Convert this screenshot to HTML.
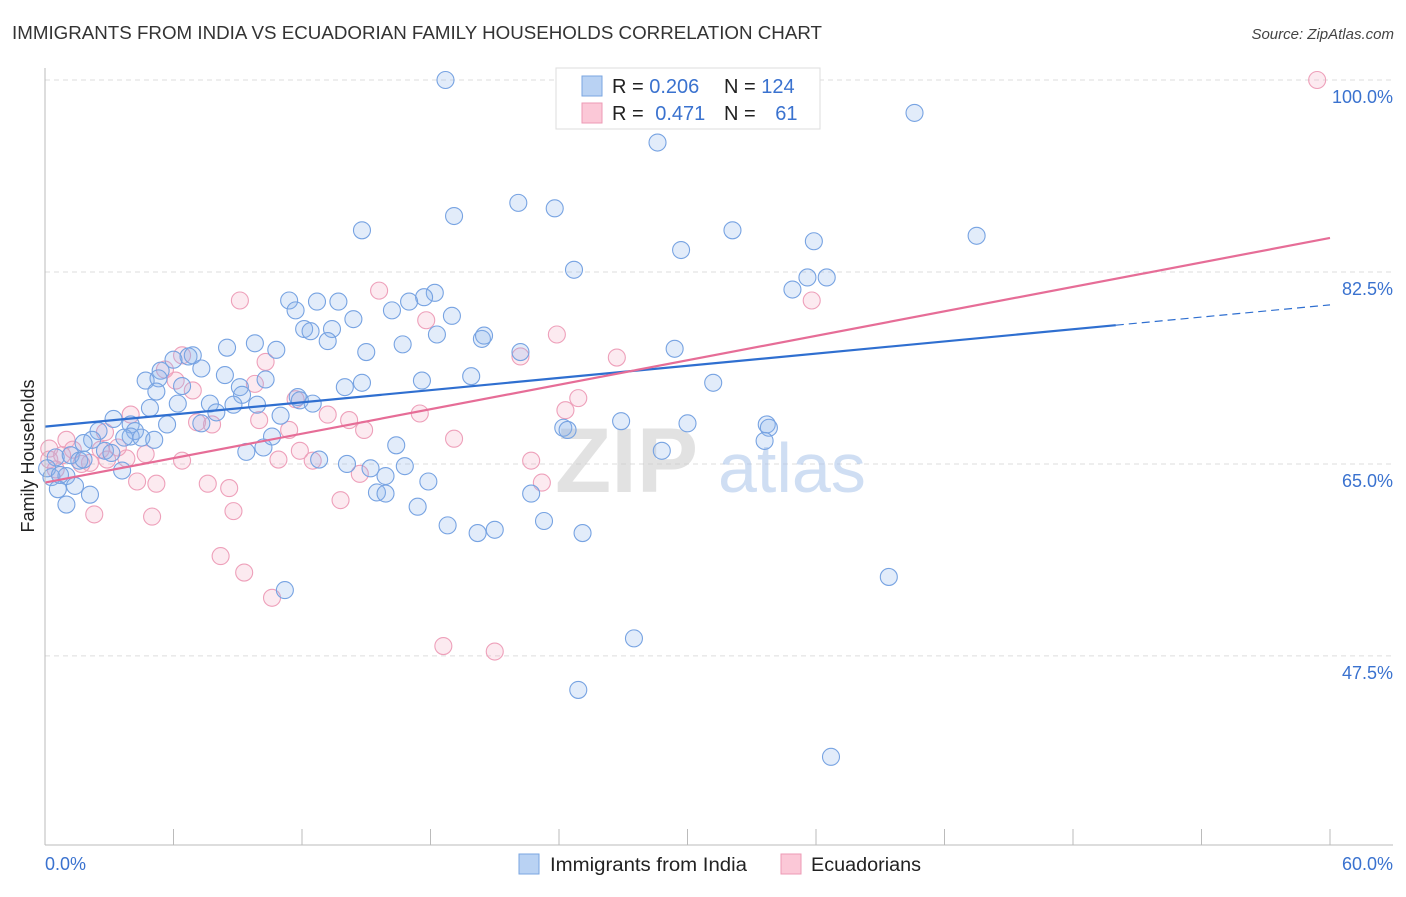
<!DOCTYPE html>
<html><head><meta charset="utf-8"><style>
body{margin:0;background:#fff;font-family:"Liberation Sans",sans-serif;}
svg text{font-family:"Liberation Sans",sans-serif;}
</style></head><body>
<svg id="chart" width="1406" height="892" xmlns="http://www.w3.org/2000/svg">
<text x="12" y="39" font-size="18" fill="#333" textLength="810" lengthAdjust="spacingAndGlyphs">IMMIGRANTS FROM INDIA VS ECUADORIAN FAMILY HOUSEHOLDS CORRELATION CHART</text>
<text x="1394" y="39" font-size="15" fill="#444" text-anchor="end" font-style="italic">Source: ZipAtlas.com</text>
<g id="grid"></g>
<g><text x="555" y="492" font-size="92" fill="#ccc" opacity="0.55" font-family="Liberation Serif" font-weight="bold">ZIP</text><text x="718" y="492" font-size="70" fill="#a9c4ea" opacity="0.55">atlas</text></g>
<g id="pts"></g>
<g id="trend"></g>
<g id="axes"></g>
<text transform="translate(34,456) rotate(-90)" font-size="18" fill="#222" text-anchor="middle">Family Households</text>
<g>
<rect x="556" y="68" width="264" height="61" fill="#fff" stroke="#ddd"/>
<rect x="582" y="76" width="20" height="20" fill="#b9d2f3" stroke="#7aa6e0"/>
<rect x="582" y="103" width="20" height="20" fill="#fbc8d7" stroke="#ec9ab4"/>
<text x="612" y="93" font-size="20" fill="#222">R = <tspan fill="#3a72cf">0.206</tspan></text>
<text x="724" y="93" font-size="20" fill="#222">N = <tspan fill="#3a72cf">124</tspan></text>
<text x="612" y="120" font-size="20" fill="#222">R = <tspan fill="#3a72cf" dx="6">0.471</tspan></text>
<text x="724" y="120" font-size="20" fill="#222">N = <tspan fill="#3a72cf" dx="14">61</tspan></text>
</g>
<g>
<rect x="519" y="854" width="20" height="20" fill="#b9d2f3" stroke="#7aa6e0"/>
<text x="550" y="871" font-size="19" fill="#222" textLength="197" lengthAdjust="spacingAndGlyphs">Immigrants from India</text>
<rect x="781" y="854" width="20" height="20" fill="#fbc8d7" stroke="#ec9ab4"/>
<text x="811" y="871" font-size="19" fill="#222" textLength="110" lengthAdjust="spacingAndGlyphs">Ecuadorians</text>
</g>
</svg>
<script>
const indiaX=[18.7,40.6,28.6,22.1,23.8,19.1,14.8,32.1,29.7,35.9,43.5,24.7,35.6,36.5,34.9,11.4,12.7,13.7,18.2,17.7,17.0,11.7,16.2,19.0,14.4,12.1,12.4,13.4,18.3,20.4,20.5,13.2,16.7,8.5,9.8,10.8,15.0,22.2,29.4,6.7,6.0,6.9,7.3,5.4,4.7,5.3,10.3,8.4,19.9,31.2,17.6,14.8,14.0,9.1,6.4,5.2,9.2,11.8,11.9,7.7,6.2,8.8,9.9,8.0,4.9,12.5,11.0,3.2,5.7,7.3,4.0,2.5,4.2,4.0,4.5,2.2,3.7,1.8,0.5,1.2,2.8,3.1,9.4,10.2,10.6,16.4,24.2,24.4,26.9,30.0,33.7,33.8,33.6,28.8,1.6,1.8,16.8,14.1,12.8,15.2,15.9,3.6,0.3,1.0,1.4,0.6,2.1,17.9,15.5,15.9,22.7,1.0,17.4,23.3,18.8,20.2,21.0,25.1,39.4,11.2,27.5,24.9,36.7,0.1,0.7,5.1];
const indiaY=[100,97.0,94.3,88.8,88.3,87.6,86.3,86.3,84.5,85.3,85.8,82.7,82.0,82.0,80.9,79.9,79.8,79.8,80.6,80.2,79.8,79.0,79.0,78.5,78.2,77.3,77.1,77.3,76.8,76.4,76.7,76.2,75.9,75.6,76.0,75.4,75.2,75.2,75.5,74.8,74.5,74.9,73.7,73.5,72.6,72.8,72.7,73.1,73.0,72.4,72.6,72.4,72.0,72.0,72.1,71.6,71.3,71.1,70.8,70.5,70.5,70.4,70.4,69.7,70.1,70.5,69.4,69.1,68.6,68.7,68.6,68.0,68.0,67.5,67.4,67.2,67.4,66.9,65.6,65.8,66.2,66.0,66.1,66.5,67.5,66.7,68.3,68.1,68.9,68.7,68.6,68.3,67.1,66.2,65.3,65.4,64.8,65.0,65.4,64.6,63.9,64.4,63.8,63.9,63.0,62.7,62.2,63.4,62.4,62.3,62.3,61.3,61.1,59.8,59.4,58.7,59.0,58.7,54.7,53.5,49.1,44.4,38.3,64.6,64.0,67.2];
const ecuX=[59.4,15.6,9.1,17.8,35.8,23.9,26.7,22.2,6.4,10.3,9.8,6.1,6.9,5.6,11.7,7.1,7.8,10.0,13.2,14.2,14.9,17.5,24.3,24.9,11.4,4.0,2.8,1.0,1.3,2.6,4.7,6.4,3.8,2.9,10.9,11.9,12.5,22.7,19.1,0.2,0.5,2.1,4.3,5.2,7.6,8.6,8.8,2.3,5.0,23.2,14.7,13.8,8.2,9.3,10.6,18.6,21.0,0.2,0.8,3.4,1.7];
const ecuY=[100,80.8,79.9,78.1,79.9,76.8,74.7,74.8,74.9,74.3,72.3,72.6,71.7,73.6,70.9,68.8,68.6,69.0,69.5,69.0,68.1,69.6,69.9,71.0,68.1,69.5,67.9,67.2,66.3,66.3,65.9,65.3,65.5,65.4,65.4,66.2,65.3,65.3,67.3,66.4,64.5,65.1,63.4,63.2,63.2,62.8,60.7,60.4,60.2,63.3,64.1,61.7,56.6,55.1,52.8,48.4,47.9,65.4,65.8,66.5,65.0];
const indiaTrend=[68.4,79.5];
const ecuTrend=[63.3,85.6];
const yTicks=[100,82.5,65,47.5];
const yTickLabels=["100.0%","82.5%","65.0%","47.5%"];
const xTickVals=[0,6,12,18,24,30,36,42,48,54,60];

const NS="http://www.w3.org/2000/svg";
const sx=v=>45+v*(1285/60);
const sy=v=>80+(100-v)*10.97;
function mk(tag,attrs,parent){const e=document.createElementNS(NS,tag);for(const k in attrs)e.setAttribute(k,attrs[k]);parent.appendChild(e);return e;}
const grid=document.getElementById('grid'),axes=document.getElementById('axes'),pts=document.getElementById('pts'),trend=document.getElementById('trend');
yTicks.forEach((t,i)=>{
  const l=mk('line',{x1:45,x2:1393,y1:sy(t),y2:sy(t),stroke:'#ddd','stroke-dasharray':'5,4'},grid);
  
  
  const tx=mk('text',{x:1393,y:sy(t)+23,'font-size':18,fill:'#3a72cf','text-anchor':'end'},axes);
  tx.textContent=yTickLabels[i];
  
  
});
mk('line',{x1:45,x2:45,y1:68,y2:845,stroke:'#bbb'},axes);
mk('line',{x1:45,x2:1393,y1:845,y2:845,stroke:'#bbb'},axes);
xTickVals.forEach(v=>{
  const t=mk('line',{x1:sx(v),x2:sx(v),y1:829,y2:845,stroke:'#bbb'},axes);
  
  
});
const xl0=mk('text',{x:45,y:870,'font-size':18,fill:'#3a72cf'},axes);xl0.textContent='0.0%';


const xl1=mk('text',{x:1393,y:870,'font-size':18,fill:'#3a72cf','text-anchor':'end'},axes);xl1.textContent='60.0%';



ecuX.forEach((x,i)=>{
  const c=mk('circle',{cx:sx(x),cy:sy(ecuY[i]),r:8.5,fill:'rgba(245,170,195,0.25)',stroke:'#eea0ba','stroke-width':1.1},pts);
  
  
});
indiaX.forEach((x,i)=>{
  const c=mk('circle',{cx:sx(x),cy:sy(indiaY[i]),r:8.5,fill:'rgba(140,180,235,0.25)',stroke:'#77a3e2','stroke-width':1.1},pts);
  
  
});
const split=50, yAt=(tr,x)=>tr[0]+(tr[1]-tr[0])*x/60;
const b1=mk('line',{x1:sx(0),y1:sy(indiaTrend[0]),x2:sx(split),y2:sy(yAt(indiaTrend,split)),stroke:'#2f6fd0','stroke-width':2.2},trend);


const b2=mk('line',{x1:sx(split),y1:sy(yAt(indiaTrend,split)),x2:sx(60),y2:sy(indiaTrend[1]),stroke:'#2f6fd0','stroke-width':1.2,'stroke-dasharray':'8,5'},trend);


const p1=mk('line',{x1:sx(0),y1:sy(ecuTrend[0]),x2:sx(60),y2:sy(ecuTrend[1]),stroke:'#e66d97','stroke-width':2.2},trend);


</script>
</body></html>
